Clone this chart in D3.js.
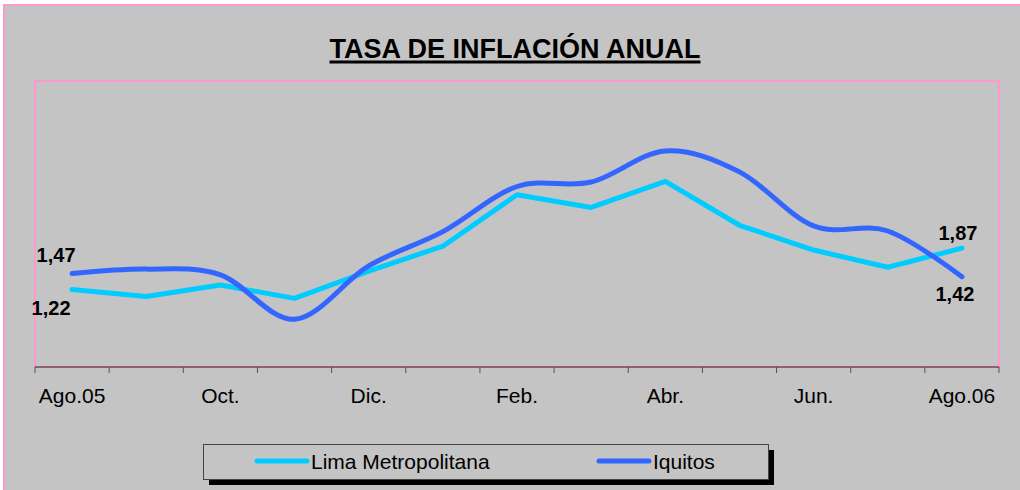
<!DOCTYPE html>
<html>
<head>
<meta charset="utf-8">
<script src="https://cdn.jsdelivr.net/npm/d3@7"></script>
<style>
  body { margin: 0; background: #fff; }
  text { font-family: "Liberation Sans", Arial, sans-serif; }
</style>
</head>
<body>
<div id="chart"></div>
<script>
// data
const months = ['Ago.05', 'Set.', 'Oct.', 'Nov.', 'Dic.', 'Ene.', 'Feb.', 'Mar.', 'Abr.', 'May.', 'Jun.', 'Jul.', 'Ago.06'];
const shownLabels = ['Ago.05', 'Oct.', 'Dic.', 'Feb.', 'Abr.', 'Jun.', 'Ago.06'];
const lima = [1.22, 1.11, 1.29, 1.08, 1.51, 1.90, 2.71, 2.51, 2.92, 2.23, 1.84, 1.57, 1.87];
const iquitos = [1.47, 1.54, 1.45, 0.75, 1.59, 2.13, 2.84, 2.91, 3.40, 3.07, 2.22, 2.14, 1.42];
const seriesNames = ['Lima Metropolitana', 'Iquitos'];

const W = 1020, H = 490;
const plot = {left: 35, right: 999, top: 81, bottom: 367};
const gray = '#c4c4c4', pink = '#ff99cc';
const cyan = '#00ccff', blue = '#3366ff';

const svg = d3.select('#chart').append('svg')
    .attr('width', W)
    .attr('height', H);

// chart area
svg.append('rect')
  .attr('x', 4).attr('y', 5)
  .attr('width', W + 20).attr('height', H + 20)
  .attr('fill', gray)
  .attr('stroke', pink)
  .attr('stroke-width', 2);

const title = svg.append('text')
  .attr('x', 515).attr('y', 58)
  .attr('text-anchor', 'middle')
  .attr('font-size', 27)
  .attr('font-weight', 'bold')
  .text('TASA DE INFLACIÓN ANUAL');
const tb = title.node().getBBox();
svg.append('line')
  .attr('x1', tb.x).attr('x2', tb.x + tb.width)
  .attr('y1', 62).attr('y2', 62)
  .attr('stroke', '#000')
  .attr('stroke-width', 3);

// plot area
svg.append('rect')
  .attr('x', plot.left).attr('y', plot.top)
  .attr('width', plot.right - plot.left).attr('height', plot.bottom - plot.top)
  .attr('fill', gray)
  .attr('stroke', pink)
  .attr('stroke-width', 2);

const x = d3.scaleBand()
    .domain(months)
    .range([plot.left, plot.right])
    .padding(0);
const cx = d => x(d) + x.bandwidth() / 2;

const y = d3.scaleLinear()
    .domain([0, 4.5])
    .range([plot.bottom, plot.top]);

// axis line + ticks between categories
const axis = svg.append('g');
axis.append('line')
  .attr('x1', plot.left).attr('x2', plot.right)
  .attr('y1', plot.bottom).attr('y2', plot.bottom)
  .attr('stroke', '#222')
  .attr('stroke-width', 1);

const tickPos = months.map(m => x(m)).concat([plot.right]);
axis.selectAll('.tick')
  .data(tickPos)
  .join('line')
    .attr('class', 'tick')
    .attr('x1', d => d).attr('x2', d => d)
    .attr('y1', plot.bottom).attr('y2', plot.bottom + 6)
    .attr('stroke', '#555');

axis.selectAll('.lbl')
  .data(shownLabels)
  .join('text')
    .attr('class', 'lbl')
    .attr('x', d => cx(d))
    .attr('y', 403)
    .attr('text-anchor', 'middle')
    .attr('font-size', 21)
    .text(d => d);

// lines
const limaLine = d3.line()
    .x((d, i) => cx(months[i]))
    .y(d => y(d));

const iqLine = d3.line()
    .x((d, i) => cx(months[i]))
    .y(d => y(d))
    .curve(d3.curveCardinal.tension(0));

svg.append('path')
  .datum(lima)
  .attr('d', limaLine)
  .attr('fill', 'none')
  .attr('stroke', cyan)
  .attr('stroke-width', 5)
  .attr('stroke-linejoin', 'round')
  .attr('stroke-linecap', 'round');

svg.append('path')
  .datum(iquitos)
  .attr('d', iqLine)
  .attr('fill', 'none')
  .attr('stroke', blue)
  .attr('stroke-width', 5)
  .attr('stroke-linecap', 'round');

// end value labels
const last = months.length - 1;
const endLabels = [
  {v: iquitos[0], i: 0, dx: -16, dy: -12},
  {v: lima[0], i: 0, dx: -21, dy: 26},
  {v: lima[last], i: last, dx: -4, dy: -8},
  {v: iquitos[last], i: last, dx: -7, dy: 24}
];
svg.selectAll('.vlab')
  .data(endLabels)
  .join('text')
    .attr('class', 'vlab')
    .attr('x', d => cx(months[d.i]) + d.dx)
    .attr('y', d => y(d.v) + d.dy)
    .attr('text-anchor', 'middle')
    .attr('font-size', 20)
    .attr('font-weight', 'bold')
    .text(d => d3.format('.2f')(d.v).replace('.', ','));

// legend
const lg = svg.append('g');
lg.append('rect')
  .attr('x', 209).attr('y', 450)
  .attr('width', 565).attr('height', 35)
  .attr('fill', '#000');
lg.append('rect')
  .attr('x', 203.5).attr('y', 444.5)
  .attr('width', 565).attr('height', 35)
  .attr('fill', gray)
  .attr('stroke', '#444');

const legendX = [257, 599];
const items = lg.selectAll('.item')
  .data(seriesNames)
  .join('g')
    .attr('class', 'item')
    .attr('transform', (d, i) => `translate(${legendX[i]}, 461)`);
items.append('line')
  .attr('x1', 0).attr('x2', 50)
  .attr('stroke', (d, i) => [cyan, blue][i])
  .attr('stroke-width', 5)
  .attr('stroke-linecap', 'round');
items.append('text')
  .attr('x', 54).attr('y', 7.5)
  .attr('font-size', 21)
  .text(d => d);
</script>
</body>
</html>
